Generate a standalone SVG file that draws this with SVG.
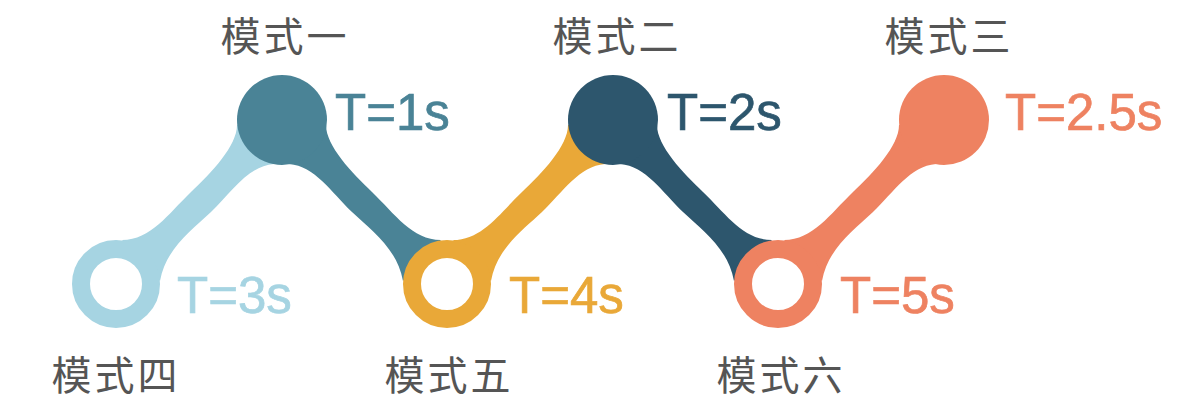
<svg xmlns="http://www.w3.org/2000/svg" xmlns:xlink="http://www.w3.org/1999/xlink" width="1200" height="414" viewBox="0 0 1200 414">
<style>
.lbl{font-family:"Noto Sans CJK SC","Noto Sans",sans-serif;font-size:40px;fill:#555555;text-anchor:middle;letter-spacing:3px}
.t{font-family:"Liberation Sans",Arial,sans-serif;font-size:51px;stroke-width:0.7px}
.ring{fill:none;stroke-width:18}
</style>
<defs>
<path id="band" d="M 6,-44 C 35,-44 52,-70 75,-92 C 95,-111 121,-138 121,-159 L 166,-164 L 158,-120 C 132,-118 116,-92 95,-72 C 76,-54 50,-36 44,-3 Z"/>
</defs>
<rect width="1200" height="414" fill="#ffffff"/>
<g id="connectors">
</g>
<g id="mode4">
<use xlink:href="#band" href="#band" transform="translate(116,284)" fill="#A6D4E2"/>
<circle class="ring" cx="116" cy="284" r="35" stroke="#A6D4E2"/>
<text class="t" x="177" y="313" fill="#A6D4E2" stroke="#A6D4E2">T=3s</text>
<text class="lbl" x="116" y="390">模式四</text>
</g>
<g id="mode1">
<use xlink:href="#band" href="#band" transform="translate(447,284) scale(-1,1)" fill="#4A8396"/>
<circle cx="282" cy="120" r="45" fill="#4A8396"/>
<text class="t" x="335" y="130" fill="#4A8396" stroke="#4A8396">T=1s</text>
<text class="lbl" x="285" y="51">模式一</text>
</g>
<g id="mode5">
<use xlink:href="#band" href="#band" transform="translate(447,284)" fill="#E9A838"/>
<circle class="ring" cx="447" cy="284" r="35" stroke="#E9A838"/>
<text class="t" x="509" y="313" fill="#E9A838" stroke="#E9A838">T=4s</text>
<text class="lbl" x="449" y="390">模式五</text>
</g>
<g id="mode2">
<use xlink:href="#band" href="#band" transform="translate(778,284) scale(-1,1)" fill="#2D566D"/>
<circle cx="613" cy="120" r="45" fill="#2D566D"/>
<text class="t" x="667" y="130" fill="#2D566D" stroke="#2D566D">T=2s</text>
<text class="lbl" x="617" y="51">模式二</text>
</g>
<g id="mode6">
<use xlink:href="#band" href="#band" transform="translate(778,284)" fill="#EE8261"/>
<circle class="ring" cx="778" cy="284" r="35" stroke="#EE8261"/>
<text class="t" x="840" y="313" fill="#EE8261" stroke="#EE8261">T=5s</text>
<text class="lbl" x="781" y="390">模式六</text>
</g>
<g id="mode3">
<circle cx="944" cy="120" r="45" fill="#EE8261"/>
<text class="t" x="1005" y="130" fill="#EE8261" stroke="#EE8261">T=2.5s</text>
<text class="lbl" x="949" y="51">模式三</text>
</g>
</svg>
